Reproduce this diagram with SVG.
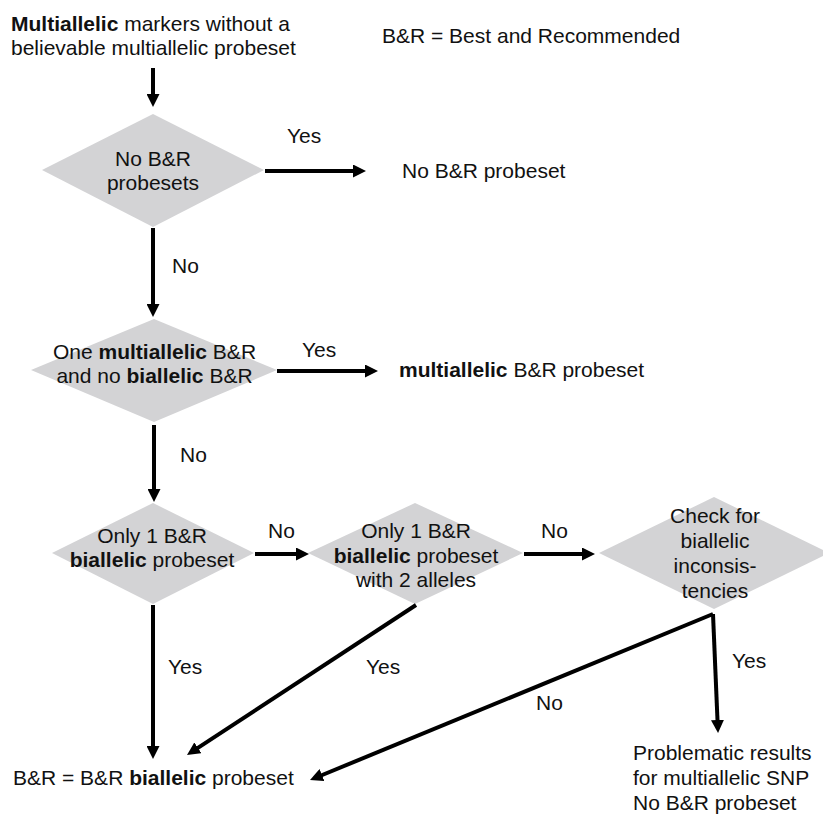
<svg xmlns="http://www.w3.org/2000/svg" width="823" height="814" viewBox="0 0 823 814">
<style>
text{font-family:"Liberation Sans",Arial,sans-serif;font-size:21px;fill:#111}
.c{text-anchor:middle}
.b{font-weight:bold}
.d{fill:#d3d3d5;stroke:none}
.e{stroke:#000;stroke-width:4;fill:none;marker-end:url(#ah)}
</style>
<defs>
<marker id="ah" markerUnits="userSpaceOnUse" markerWidth="13" markerHeight="13" refX="5" refY="6.5" orient="auto">
<path d="M0,0 L13,6.5 L0,13 z" fill="#000"/>
</marker>
</defs>
<rect width="823" height="814" fill="#fff"/>

<g id="start">
<text x="11" y="31"><tspan class="b">Multiallelic</tspan> markers without a</text>
<text x="11" y="55">believable multiallelic probeset</text>
</g>
<g id="legend"><text x="382" y="43">B&amp;R = Best and Recommended</text></g>

<g id="d1">
<polygon class="d" points="42,170 153,114 264,170 153,227"/>
<text class="c" x="153" y="166">No B&amp;R</text>
<text class="c" x="153" y="190">probesets</text>
</g>
<g id="r1"><text x="402" y="178">No B&amp;R probeset</text></g>

<g id="d2">
<polygon class="d" points="31,370 154,319 277,370 154,422"/>
<text class="c" x="154.5" y="359">One <tspan class="b">multiallelic</tspan> B&amp;R</text>
<text class="c" x="154.5" y="383">and no <tspan class="b">biallelic</tspan> B&amp;R</text>
</g>
<g id="r2"><text x="399" y="377"><tspan class="b">multiallelic</tspan> B&amp;R probeset</text></g>

<g id="d3">
<polygon class="d" points="52,553 153,503 254,553 153,604"/>
<text class="c" x="152" y="543">Only 1 B&amp;R</text>
<text class="c" x="152" y="567"><tspan class="b">biallelic</tspan> probeset</text>
</g>

<g id="d4">
<polygon class="d" points="308,553 415,503 523,553 415,604"/>
<text class="c" x="416" y="538">Only 1 B&amp;R</text>
<text class="c" x="416" y="563"><tspan class="b">biallelic</tspan> probeset</text>
<text class="c" x="416" y="587">with 2 alleles</text>
</g>

<g id="d5">
<polygon class="d" points="599,553 714,497 829,553 714,609"/>
<text class="c" x="715" y="523">Check for</text>
<text class="c" x="715" y="548">biallelic</text>
<text class="c" x="715" y="573">inconsis-</text>
<text class="c" x="715" y="598">tencies</text>
</g>

<g id="r3"><text x="13" y="785">B&amp;R = B&amp;R <tspan class="b">biallelic</tspan> probeset</text></g>
<g id="r4">
<text x="633" y="760">Problematic results</text>
<text x="633" y="785">for multiallelic SNP</text>
<text x="633" y="810">No B&amp;R probeset</text>
</g>

<g id="connectors">
<line class="e" x1="153" y1="68" x2="153" y2="99"/>
<line class="e" x1="265" y1="171" x2="358" y2="171"/>
<line class="e" x1="153" y1="228" x2="153" y2="309"/>
<line class="e" x1="277" y1="371" x2="370" y2="371"/>
<line class="e" x1="154" y1="425" x2="154" y2="494"/>
<line class="e" x1="255" y1="554" x2="301" y2="554"/>
<line class="e" x1="524" y1="554" x2="587" y2="554"/>
<line class="e" x1="153" y1="605" x2="153" y2="751"/>
<line class="e" x1="416" y1="605" x2="193.7" y2="750.6"/>
<line class="e" x1="713" y1="614" x2="717.7" y2="725"/>
<line class="e" x1="713" y1="614" x2="317.4" y2="777"/>
<text x="287" y="143">Yes</text>
<text x="172" y="273">No</text>
<text x="302" y="357">Yes</text>
<text x="180" y="462">No</text>
<text x="268" y="538">No</text>
<text x="541" y="538">No</text>
<text x="168" y="674">Yes</text>
<text x="366" y="674">Yes</text>
<text x="732" y="668">Yes</text>
<text x="536" y="710">No</text>
</g>
</svg>
